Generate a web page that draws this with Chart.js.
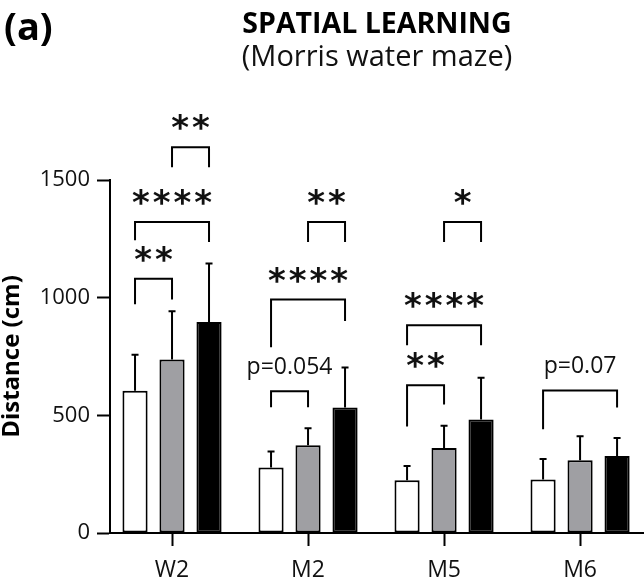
<!DOCTYPE html>
<html>
<head>
<meta charset="utf-8">
<script src="https://cdn.jsdelivr.net/npm/chart.js@4.4.1/dist/chart.umd.min.js"></script>
<style>
  html, body { margin: 0; padding: 0; background: #fff; }
  canvas { display: block; }
</style>
</head>
<body>
<canvas id="mwmChart" width="644" height="584"></canvas>
<script>
// groups and tick values
const categories = ['W2', 'M2', 'M5', 'M6'];
const yTicks = [0, 500, 1000, 1500];

// mean distance (cm) and SD per group
const whiteMean = [605, 278, 224, 227];
const whiteSD = [153, 68, 61, 88];
const grayMean = [737, 373, 361, 309];
const graySD = [206, 72, 95, 102];
const blackMean = [897, 533, 482, 327];
const blackSD = [248, 170, 178, 77];

// significance brackets: group, bars compared, label, bracket height, leg ends (cm)
const sigGroup = [0, 0, 0, 1, 1, 1, 2, 2, 2, 3];
const sigFrom = [0, 0, 1, 0, 0, 1, 0, 0, 1, 0];
const sigTo = [1, 2, 2, 1, 2, 2, 1, 2, 2, 2];
const sigText = ['**', '****', '**', 'p=0.054', '****', '**', '**', '****', '*', 'p=0.07'];
const sigTop = [1081, 1322, 1640, 603, 992, 1322, 628, 883, 1322, 606];
const sigLeftEnd = [972, 1244, 1555, 535, 790, 1237, 453, 798, 1237, 441];
const sigRightEnd = [993, 1237, 1555, 535, 901, 1237, 546, 798, 1237, 533];

const FONT = '"Open Sans", "DejaVu Sans", sans-serif';

function toPoints(arr) {
  return arr.map((v, i) => ({ x: i, y: v }));
}

// SD whiskers (upwards only) and comparison brackets
const extrasPlugin = {
  id: 'extras',
  afterDatasetsDraw(chart) {
    const ctx = chart.ctx;
    const y = chart.scales.y;
    const sds = [whiteSD, graySD, blackSD];
    const means = [whiteMean, grayMean, blackMean];

    ctx.save();
    ctx.strokeStyle = '#000';
    ctx.lineWidth = 2;
    ctx.lineCap = 'butt';

    // error bars
    sds.forEach((sd, k) => {
      const meta = chart.getDatasetMeta(k);
      meta.data.forEach((bar, i) => {
        const top = y.getPixelForValue(means[k][i] + sd[i]);
        ctx.beginPath();
        ctx.moveTo(bar.x, bar.y);
        ctx.lineTo(bar.x, top);
        ctx.moveTo(bar.x - 3.5, top);
        ctx.lineTo(bar.x + 3.5, top);
        ctx.stroke();
      });
    });

    // brackets + labels
    sigText.forEach((label, n) => {
      const g = sigGroup[n];
      const x1 = chart.getDatasetMeta(sigFrom[n]).data[g].x;
      const x2 = chart.getDatasetMeta(sigTo[n]).data[g].x;
      const yTop = y.getPixelForValue(sigTop[n]);
      const yL = y.getPixelForValue(sigLeftEnd[n]);
      const yR = y.getPixelForValue(sigRightEnd[n]);
      ctx.beginPath();
      ctx.moveTo(x1, yL);
      ctx.lineTo(x1, yTop);
      ctx.lineTo(x2, yTop);
      ctx.lineTo(x2, yR);
      ctx.stroke();

      const cx = (x1 + x2) / 2;
      ctx.fillStyle = '#111';
      ctx.textAlign = 'center';
      ctx.textBaseline = 'alphabetic';
      if (label.startsWith('p')) {
        ctx.font = '23px ' + FONT;
        ctx.letterSpacing = '0px';
        ctx.fillText(label, cx, yTop - 17);
      } else {
        ctx.font = 'bold 34px "DejaVu Sans", sans-serif';
        ctx.letterSpacing = '3px';
        const m = ctx.measureText(label);
        const base = yTop - 25 + (m.actualBoundingBoxAscent - m.actualBoundingBoxDescent) / 2;
        ctx.fillText(label, cx + 1.5, base);
      }
    });
    ctx.restore();

    // panel letter
    ctx.save();
    ctx.fillStyle = '#000';
    ctx.font = 'bold 38px ' + FONT;
    ctx.textAlign = 'left';
    ctx.textBaseline = 'middle';
    ctx.fillText('(a)', 4, 29);
    ctx.restore();
  }
};

function drawChart() {
  const ctx = document.getElementById('mwmChart').getContext('2d');
  new Chart(ctx, {
    type: 'bar',
    data: {
      datasets: [
        { data: toPoints(whiteMean), backgroundColor: '#ffffff', borderColor: '#000', borderWidth: 2, borderSkipped: false },
        { data: toPoints(grayMean), backgroundColor: '#9f9fa3', borderColor: '#000', borderWidth: 2, borderSkipped: false },
        { data: toPoints(blackMean), backgroundColor: '#000000', borderColor: '#000', borderWidth: 2, borderSkipped: false }
      ]
    },
    options: {
      responsive: false,
      animation: false,
      layout: { padding: 0 },
      datasets: {
        bar: { categoryPercentage: 0.816, barPercentage: 0.68 }
      },
      plugins: {
        legend: { display: false },
        tooltip: { enabled: false },
        title: {
          display: true,
          text: 'SPATIAL LEARNING',
          fullSize: false,
          color: '#000',
          font: { family: FONT, size: 28.5, weight: 'bold', lineHeight: 1.2 },
          padding: { top: 8, bottom: 0 }
        },
        subtitle: {
          display: true,
          text: '(Morris water maze)',
          fullSize: false,
          color: '#111',
          font: { family: FONT, size: 29, lineHeight: 1.1 },
          padding: { top: 0, bottom: 106 }
        }
      },
      scales: {
        x: {
          type: 'linear',
          offset: false,
          min: -0.456,
          max: 3.47,
          afterBuildTicks: s => { s.ticks = categories.map((c, i) => ({ value: i })); },
          afterFit: s => { s.height = 51; },
          grid: { offset: false, drawOnChartArea: false, drawTicks: true, tickLength: 13, tickColor: '#000', tickWidth: 2 },
          border: { display: true, color: '#000', width: 2 },
          ticks: {
            padding: 11,
            color: '#111',
            font: { family: FONT, size: 23 },
            callback: v => categories[v]
          }
        },
        y: {
          min: 0,
          max: 1500,
          afterBuildTicks: s => { s.ticks = yTicks.map(v => ({ value: v })); },
          afterFit: s => { s.width = 110; },
          grid: { drawOnChartArea: false, drawTicks: true, tickLength: 13, tickColor: '#000', tickWidth: 2 },
          border: { display: true, color: '#000', width: 2 },
          ticks: { padding: 7, color: '#111', font: { family: FONT, size: 22 }, callback: v => String(v) },
          title: {
            display: true,
            text: 'Distance (cm)',
            color: '#000',
            font: { family: FONT, size: 24, weight: 'bold', lineHeight: 1 },
            padding: 0
          }
        }
      }
    },
    plugins: [extrasPlugin]
  });
}

Promise.all([
  document.fonts.load('bold 24px "Open Sans"'),
  document.fonts.load('24px "Open Sans"'),
  document.fonts.load('bold 34px "DejaVu Sans"')
]).then(drawChart, drawChart);
</script>
</body>
</html>
